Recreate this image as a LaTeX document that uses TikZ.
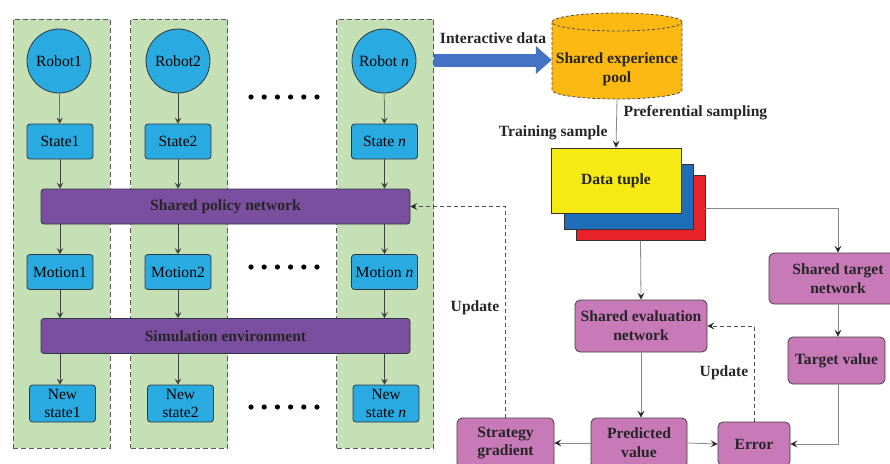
\documentclass[tikz,border=0pt]{standalone}
\usepackage{fontspec}
\setmainfont{Liberation Serif}
\usetikzlibrary{arrows.meta}

\definecolor{lanegreen}{HTML}{C5E0B4}
\definecolor{cyanbox}{HTML}{29ABE2}
\definecolor{barpurple}{HTML}{7B4F9F}
\definecolor{pinkbox}{HTML}{C879B8}
\definecolor{poolorange}{HTML}{FDB913}
\definecolor{flowblue}{HTML}{4472C4}
\definecolor{tupyellow}{HTML}{F5EA14}
\definecolor{tupblue}{HTML}{1F6FB8}
\definecolor{tupred}{HTML}{E8232A}
\definecolor{edgedark}{HTML}{2E3640}
\definecolor{linegray}{HTML}{8A8A8A}

\newcommand\regfont{\fontsize{15.6}{18.5}\selectfont}
\newcommand\boldfont{\bfseries\fontsize{15.6}{18.8}\selectfont}

\tikzset{
  lane/.style={draw=black!65, dash pattern=on 5pt off 3pt, line width=1pt, fill=lanegreen, minimum width=97pt, minimum height=429pt},
  robot/.style={circle, draw=edgedark, line width=0.8pt, fill=cyanbox, minimum size=64pt, inner sep=0pt, font=\regfont},
  cbox/.style={draw=edgedark, line width=0.8pt, fill=cyanbox, rounded corners=3pt, minimum width=66pt, minimum height=35pt, inner sep=1pt, align=center, font=\regfont},
  bar/.style={draw=edgedark, line width=0.8pt, fill=barpurple, rounded corners=3pt, minimum width=369pt, minimum height=35pt, text=black!85, font=\boldfont},
  pbox/.style={draw=black!75, line width=0.8pt, fill=pinkbox, rounded corners=5pt, inner sep=1pt, align=center, text=black!85, font=\boldfont},
  tup/.style={draw=black!80, line width=0.8pt, minimum width=129pt, minimum height=65pt},
  lbl/.style={font=\boldfont, text=black!85},
  arr/.style={draw=black!75, line width=0.5pt, -{Stealth[length=6pt, width=6.5pt, inset=2.5pt]}},
  garr/.style={draw=linegray, line width=0.8pt, -{Stealth[length=7pt, width=7pt, inset=3pt, color=black!85]}},
  darr/.style={draw=black!70, dash pattern=on 4pt off 3pt, line width=0.8pt, -{Stealth[length=7pt, width=7pt, inset=3pt, color=black!85]}},
}

\begin{document}
\begin{tikzpicture}[x=1pt, y=-1pt]
\useasboundingbox (0,0) rectangle (890,463);
\clip (0,0) rectangle (890,463);

% agent lanes
\node[lane] (lane1) at (61.5,233.5) {};
\node[lane] (lane2) at (179,233.5) {};
\node[lane] (lane3) at (385,233.5) {};

% robots and their states
\node[robot] (r1) at (59,61) {Robot1};
\node[robot] (r2) at (178,61) {Robot2};
\node[robot] (r3) at (384,61) {Robot \textit{n}};

\node[cbox] (s1) at (60,141.5) {State1};
\node[cbox] (s2) at (178,141.5) {State2};
\node[cbox] (s3) at (384.5,141.5) {State \textit{n}};

\node[bar] (pol) at (225.5,206.5) {Shared policy network};

\node[cbox] (m1) at (60,272) {Motion1};
\node[cbox] (m2) at (178,272) {Motion2};
\node[cbox] (m3) at (384.5,272) {Motion \textit{n}};

\node[bar] (sim) at (225.5,336) {Simulation environment};

\node[cbox, minimum height=37pt] (n1) at (62.5,403.5) {New\\state1};
\node[cbox, minimum height=37pt] (n2) at (180.5,403.5) {New\\state2};
\node[cbox, minimum height=37pt] (n3) at (386,403.5) {New\\state \textit{n}};

% ellipsis dots between lanes
\foreach \yy in {97,267,407}
  \foreach \k in {0,...,5}
    \fill (251+\k*13.2,\yy) circle[radius=2.6pt];

% per-lane flow
\foreach \i in {1,2,3} {
  \draw[arr] (r\i) -- (s\i);
  \draw[arr] (s\i.south) -- (s\i.south |- pol.north);
  \draw[arr] (s\i.south |- pol.south) -- (m\i.north);
  \draw[arr] (m\i.south) -- (m\i.south |- sim.north);
  \draw[arr] (m\i.south |- sim.south) -- (m\i.south |- n\i.north);
}

% shared experience pool (cylinder)
\node[minimum width=130pt, minimum height=86pt, inner sep=0pt] (pool) at (617,56) {};
\fill[poolorange] (552,22) -- (552,90) arc[start angle=180, end angle=360, x radius=65pt, y radius=9pt] -- (682,22) -- cycle;
\draw[black!70, dash pattern=on 3pt off 2pt, line width=0.8pt] (552,22) -- (552,90) arc[start angle=180, end angle=360, x radius=65pt, y radius=9pt] -- (682,22);
\draw[black!70, dash pattern=on 3pt off 2pt, line width=0.8pt, fill=poolorange] (617,22) ellipse[x radius=65pt, y radius=9pt];
\node[lbl, align=center] (pooltxt) at (617,69) {Shared experience\\pool};

% interactive data arrow
\coordinate (flowstart) at (434,60);
\draw[flowblue, line width=13pt, -{Triangle[length=16pt, width=27pt]}] (flowstart) -- (pool.west |- flowstart);
\node[lbl] (intxt) at (493,38) {Interactive data};

% data tuple stack
\node[tup, fill=tupred] (tred) at (640.5,208) {};
\node[tup, fill=tupblue] (tblue) at (628.5,196.5) {};
\node[tup, fill=tupyellow, minimum width=130pt, font=\boldfont, text=black!85] (tyel) at (616,180.5) {Data tuple};

\draw[garr] (pool.south) -- (tyel.north);
\node[lbl, anchor=west] (preftxt) at (620,113) {Preferential sampling};
\node[lbl, anchor=east] (traintxt) at (611,133) {Training sample};

% value networks
\node[pbox, minimum width=138pt, minimum height=51pt] (tnet) at (838,278.5) {Shared target\\network};
\node[pbox, minimum width=97pt, minimum height=47pt] (tval) at (836.5,360.5) {Target value};
\node[pbox, minimum width=132pt, minimum height=52pt] (eval) at (641,326) {Shared evaluation\\network};
\node[pbox, minimum width=96pt, minimum height=50pt] (pred) at (639,443) {Predicted\\value};
\node[pbox, minimum width=72pt, minimum height=44pt] (err) at (754,444) {Error};
\node[pbox, minimum width=97pt, minimum height=50pt] (strat) at (505.5,443) {Strategy\\gradient};

\draw[garr] (tred.east) -| (tnet.north);
\draw[garr] (tnet.south) -- (tnet.south |- tval.north);
\draw[garr] (tred.south) -- (eval.north);
\draw[garr] (eval.south) -- (eval.south |- pred.north);
\draw[garr] (pred.west) -- (strat.east);
\draw[garr] (pred.east) -- (err.west);
\draw[garr] (tnet.south |- tval.south) |- (err.east);

% update paths
\draw[darr] (err.north) |- (eval.east);
\node[lbl] (up1) at (724,373) {Update};
\draw[darr] (strat.north) |- (pol.east);
\node[lbl] (up2) at (475,308) {Update};

\end{tikzpicture}
\end{document}
